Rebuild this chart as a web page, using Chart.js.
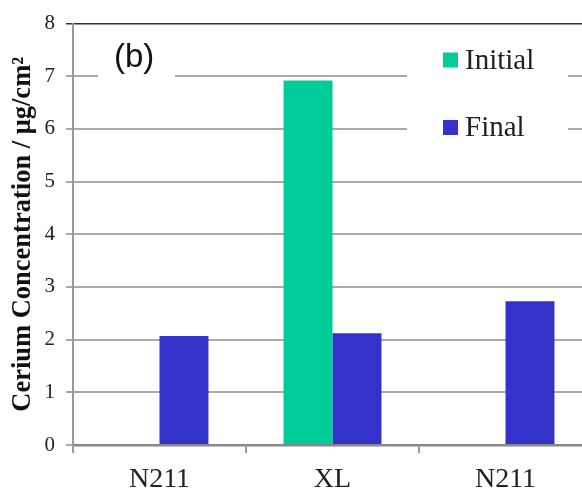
<!DOCTYPE html>
<html>
<head>
<meta charset="utf-8">
<script src="https://cdn.jsdelivr.net/npm/chart.js@4"></script>
<style>
  html, body { margin: 0; padding: 0; background: #fff; overflow: hidden; }
  #wrap { position: absolute; left: 0; top: 0; width: 600px; height: 491px; }
</style>
</head>
<body>
<div id="wrap"><canvas id="results-chart" width="600" height="491"></canvas></div>
<script>
const categories = ['N211', 'XL', 'N211'];
const initialValues = [0, 6.92, 0];
const finalValues = [2.07, 2.12, 2.73];
const yTicks = [0, 1, 2, 3, 4, 5, 6, 7, 8];

const serif = '"Liberation Serif", "Times New Roman", serif';

//-------------------------------------------------//

// white boxes behind "(b)" and the legend, plus their text
const overlayPlugin = {
    id: 'overlay',
    beforeDatasetsDraw(chart) {
        const c = chart.ctx;
        c.save();
        c.fillStyle = '#fff';
        c.fillRect(98, 34, 77, 56);
        c.fillRect(407, 34, 161, 116);
        c.restore();
    },
    afterDraw(chart) {
        const c = chart.ctx;
        c.save();
        c.fillStyle = '#111';
        c.font = '33px "Liberation Sans", Arial, sans-serif';
        c.textBaseline = 'middle';
        c.fillText('(b)', 114, 58);

        chart.data.datasets.forEach((ds, i) => {
            const y = 60 + i * 67.5;
            c.fillStyle = ds.backgroundColor;
            c.fillRect(443, y - 7.5, 15, 15);
            c.fillStyle = '#222';
            c.font = '29px ' + serif;
            c.fillText(ds.label, 465, y + 1);
        });
        c.restore();
    }
};

const ctx = document.getElementById('results-chart').getContext('2d');
const chart = new Chart(ctx, {
    type: 'bar',
    data: {
        labels: categories,
        datasets: [{
            label: 'Initial',
            backgroundColor: '#00CC99',
            data: initialValues
        }, {
            label: 'Final',
            backgroundColor: '#3333CC',
            data: finalValues
        }]
    },
    options: {
        responsive: false,
        animation: false,
        layout: { padding: { left: 0, top: 23, right: 8, bottom: 0 } },
        datasets: {
            bar: { barPercentage: 1, categoryPercentage: 0.566 }
        },
        plugins: {
            legend: { display: false },
            tooltip: { enabled: false }
        },
        scales: {
            x: {
                afterFit: (axis) => { axis.height = 46; },
                border: { color: '#888', width: 2.5 },
                grid: { drawOnChartArea: false, drawTicks: true, tickLength: 8, color: '#999', lineWidth: 2 },
                ticks: { font: { family: serif, size: 28 }, color: '#222', padding: 10 }
            },
            y: {
                min: 0,
                max: 8,
                afterFit: (axis) => { axis.width = 73; },
                afterBuildTicks: (axis) => { axis.ticks = yTicks.map(v => ({ value: v })); },
                border: { color: '#999', width: 2 },
                grid: {
                    color: (c) => c.tick && c.tick.value === 8 ? '#333' : '#aaa',
                    lineWidth: (c) => c.tick && c.tick.value === 8 ? 1.5 : 2,
                    tickLength: 7
                },
                ticks: { font: { family: serif, size: 21 }, color: '#222', padding: 11 },
                title: {
                    display: true,
                    text: 'Cerium Concentration / μg/cm²',
                    font: { family: serif, size: 26.5, weight: 'bold', lineHeight: 1 },
                    color: '#111',
                    padding: { top: 10, bottom: 0 }
                }
            }
        }
    },
    plugins: [overlayPlugin]
});
</script>
</body>
</html>
